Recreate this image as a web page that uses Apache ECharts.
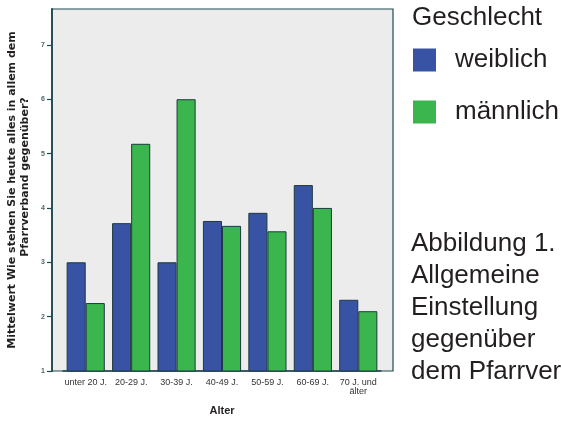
<!DOCTYPE html>
<html>
<head>
<meta charset="utf-8">
<script src="https://cdn.jsdelivr.net/npm/echarts@6/dist/echarts.min.js"></script>
<style>
html,body{margin:0;padding:0;background:#fff;}
#chart{width:561px;height:421px;}
</style>
</head>
<body>
<div id="chart"></div>
<script>
var categories = ['unter 20 J.', '20-29 J.', '30-39 J.', '40-49 J.', '50-59 J.', '60-69 J.', '70 J. und\nälter'];
var weiblich = [3.0, 3.72, 3.0, 3.76, 3.91, 4.42, 2.31];
var maennlich = [2.25, 5.18, 6.0, 3.67, 3.57, 4.0, 2.1];
var yTicks = [1, 2, 3, 4, 5, 6, 7];
var seriesNames = ['weiblich', 'männlich'];
var legendTitle = 'Geschlecht';
var yTitle1 = 'Mittelwert Wie stehen Sie heute alles in allem dem';
var yTitle2 = 'Pfarrverband gegenüber?';
var xTitle = 'Alter';
var caption = 'Abbildung 1.\nAllgemeine\nEinstellung\ngegenüber\ndem Pfarrver';

var chart = echarts.init(document.getElementById('chart'), null, {renderer: 'canvas'});
var font = 'Liberation Sans, Arial, Helvetica, sans-serif';
var titleFont = 'DejaVu Sans, Verdana, sans-serif';
var axisColor = '#1d4a50';
var barBorder = '#1c3a40';

chart.setOption({
  animation: false,
  textStyle: {fontFamily: font},
  title: [
    {text: legendTitle, left: 412, top: 5, padding: 0,
     textStyle: {fontSize: 26, lineHeight: 26, fontWeight: 'normal', color: '#231f20', fontFamily: font}},
    {text: caption, left: 411, top: 228, padding: 0,
     textStyle: {fontSize: 26, fontWeight: 'normal', color: '#231f20', lineHeight: 32, fontFamily: font}}
  ],
  legend: {
    orient: 'vertical',
    left: 413,
    top: 47,
    padding: 0,
    itemWidth: 23,
    itemHeight: 23,
    itemGap: 26,
    icon: 'rect',
    data: seriesNames,
    itemStyle: {borderWidth: 0},
    textStyle: {fontSize: 26, color: '#231f20', fontFamily: font, padding: [0, 0, 0, 14]}
  },
  grid: [
    {left: 52, top: 9, right: 168, bottom: 50, outerBoundsMode: 'none',
     show: true, backgroundColor: '#ececec', borderColor: axisColor, borderWidth: 1.2},
    {left: 63, top: 9, right: 180, bottom: 50, outerBoundsMode: 'none', show: false}
  ],
  xAxis: [
    {gridIndex: 0, type: 'value', show: false, min: 0, max: 1},
    {
      gridIndex: 1,
      type: 'category',
      data: categories,
      name: xTitle,
      nameLocation: 'middle',
      nameGap: 34,
      nameTextStyle: {fontSize: 11, fontWeight: 'bold', color: '#231f20'},
      axisLine: {lineStyle: {color: axisColor, width: 1.5}},
      axisTick: {alignWithLabel: true, length: 5, lineStyle: {color: axisColor, width: 1.2}},
      axisLabel: {fontSize: 9, color: '#333', margin: 7, lineHeight: 9, interval: 0}
    }
  ],
  yAxis: [
    {gridIndex: 0, type: 'value', show: false, min: 0, max: 1},
    {
      gridIndex: 1,
      type: 'value',
      min: 1,
      max: 7.66,
      interval: 1,
      offset: 11,
      splitLine: {show: false},
      axisLine: {show: true, lineStyle: {color: axisColor, width: 1.8}},
      axisTick: {show: true, length: 5, customValues: yTicks, lineStyle: {color: axisColor, width: 1.2}},
      axisLabel: {fontSize: 7, color: '#4a6a70', fontWeight: 'bold', margin: 7, customValues: yTicks}
    }
  ],
  graphic: [
    {type: 'text', x: 12, y: 190, rotation: Math.PI / 2,
     style: {text: yTitle1, fontSize: 11, fontWeight: 'bold', fontFamily: titleFont, fill: '#231f20',
             align: 'center', verticalAlign: 'middle'}},
    {type: 'text', x: 25, y: 177, rotation: Math.PI / 2,
     style: {text: yTitle2, fontSize: 11, fontWeight: 'bold', fontFamily: titleFont, fill: '#231f20',
             align: 'center', verticalAlign: 'middle'}}
  ],
  series: [
    {
      name: seriesNames[0], type: 'bar', data: weiblich, xAxisIndex: 1, yAxisIndex: 1,
      barGap: '0%', barCategoryGap: '16%',
      itemStyle: {color: '#3953a4', borderColor: barBorder, borderWidth: 1}
    },
    {
      name: seriesNames[1], type: 'bar', data: maennlich, xAxisIndex: 1, yAxisIndex: 1,
      itemStyle: {color: '#3bb54d', borderColor: barBorder, borderWidth: 1}
    }
  ]
});
</script>
</body>
</html>
